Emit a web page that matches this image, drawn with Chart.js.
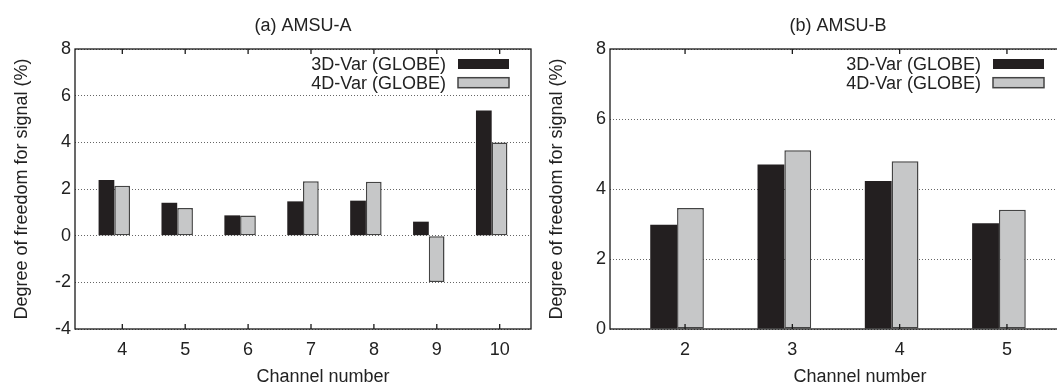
<!DOCTYPE html>
<html lang="ja">
<head>
<meta charset="utf-8">
<title>Degree of freedom for signal</title>
<script src="https://cdn.jsdelivr.net/npm/chart.js@4.4.1/dist/chart.umd.min.js"></script>
<style>
  html, body { margin: 0; padding: 0; background: #fff; }
  #wrap { position: relative; width: 1057px; height: 385px; overflow: hidden; font-family: "Liberation Sans", Arial, sans-serif; color: #222; }
  #chartA { position: absolute; left: 0; top: 0; }
  #chartB { position: absolute; left: 530px; top: 0; }
  .xlabel { position: absolute; top: 366px; font-size: 18px; line-height: 20px; white-space: nowrap; transform: translateX(-50%); }
</style>
</head>
<body>
<div id="wrap">
  <canvas id="chartA" width="532" height="385"></canvas>
  <canvas id="chartB" width="536" height="385"></canvas>
  <div class="xlabel" style="left:323px">Channel number</div>
  <div class="xlabel" style="left:860px">Channel number</div>
</div>
<script>
// データ
const seriesLabels = ['3D-Var (GLOBE)', '4D-Var (GLOBE)'];
const channelsA = [4, 5, 6, 7, 8, 9, 10];
const var3dA = [2.39, 1.41, 0.87, 1.47, 1.50, 0.60, 5.36];
const var4dA = [2.14, 1.19, 0.86, 2.33, 2.31, -1.99, 3.99];
const channelsB = [2, 3, 4, 5];
const var3dB = [2.98, 4.70, 4.23, 3.02];
const var4dB = [3.46, 5.11, 4.79, 3.41];
const yTicksA = [-4, -2, 0, 2, 4, 6, 8];
const yTicksB = [0, 2, 4, 6, 8];

const FONT = { family: '"Liberation Sans", Arial, sans-serif', size: 18, weight: 'normal' };
const TEXT = '#222';
const COLOR_3D = '#231f20';
const COLOR_4D = '#c6c7c8';
const EDGE_4D = '#444';

// 枠線と上下の目盛り
const framePlugin = {
  id: 'frame',
  afterDraw(chart) {
    const { ctx, chartArea: a } = chart;
    const xs = chart.scales.x;
    ctx.save();
    ctx.strokeStyle = '#1a1a1a';
    ctx.lineWidth = 1.3;
    ctx.strokeRect(a.left, a.top, a.right - a.left, a.bottom - a.top);
    ctx.beginPath();
    xs.ticks.forEach(t => {
      const px = xs.getPixelForValue(t.value) + 8;
      ctx.moveTo(px, a.top);
      ctx.lineTo(px, a.top + 5);
      ctx.moveTo(px, a.bottom);
      ctx.lineTo(px, a.bottom - 5);
    });
    ctx.stroke();
    ctx.restore();
  }
};

// 凡例 (右上、テキストの右に見本)
const keyPlugin = {
  id: 'key',
  afterDatasetsDraw(chart) {
    const { ctx, chartArea: a } = chart;
    const boxRight = a.right - 22;
    ctx.save();
    ctx.font = `${FONT.size}px ${FONT.family}`;
    ctx.textAlign = 'right';
    ctx.textBaseline = 'middle';
    chart.data.datasets.forEach((ds, i) => {
      const top = a.top + 10 + i * 18.7;
      ctx.fillStyle = ds.backgroundColor;
      ctx.fillRect(boxRight - 51, top, 51, 10);
      if (ds.borderWidth) {
        ctx.strokeStyle = ds.borderColor;
        ctx.lineWidth = ds.borderWidth;
        ctx.strokeRect(boxRight - 51, top, 51, 10);
      }
      ctx.fillStyle = TEXT;
      ctx.fillText(ds.label, boxRight - 63, top + 6);
    });
    ctx.restore();
  }
};

// グラフ作成
function makeChart(id, channels, v3d, v4d, yTicks, title, padLeft, padRight) {
  const toPoints = vals => channels.map((c, i) => ({ x: c, y: vals[i] }));
  return new Chart(document.getElementById(id), {
    type: 'bar',
    data: {
      datasets: [
        { label: seriesLabels[0], data: toPoints(v3d), backgroundColor: COLOR_3D, borderColor: COLOR_3D, borderWidth: 0 },
        { label: seriesLabels[1], data: toPoints(v4d), backgroundColor: COLOR_4D, borderColor: EDGE_4D, borderWidth: 1.5, borderSkipped: false },
      ]
    },
    options: {
      responsive: false,
      animation: false,
      layout: { padding: { left: padLeft, right: padRight, top: 0, bottom: 26.4 } },
      datasets: { bar: { barPercentage: 1, categoryPercentage: 0.5 } },
      plugins: {
        legend: { display: false },
        tooltip: { enabled: false },
        title: {
          display: true,
          text: title,
          fullSize: false,
          font: FONT,
          color: TEXT,
          padding: { top: 15, bottom: 12.4 },
        },
      },
      scales: {
        x: {
          type: 'linear',
          min: channels[0] - 0.625,
          max: channels[channels.length - 1] + 0.625,
          offset: false,
          afterBuildTicks: s => { s.ticks = channels.map(v => ({ value: v })); },
          afterFit: s => { s.height = 29.6; },
          grid: { display: false, offset: false },
          border: { display: false },
          ticks: { autoSkip: false, maxRotation: 0, padding: 2.5, labelOffset: 8, font: FONT, color: TEXT },
        },
        y: {
          min: yTicks[0],
          max: yTicks[yTicks.length - 1],
          afterBuildTicks: s => { s.ticks = yTicks.map(v => ({ value: v })); },
          afterFit: s => { s.width = 64; },
          grid: { color: '#666', lineWidth: 1, drawTicks: false },
          border: { display: false, dash: [1, 2] },
          ticks: { padding: 4, font: FONT, color: TEXT },
          title: { display: true, text: 'Degree of freedom for signal (%)', font: FONT, color: TEXT, padding: 0 },
        }
      }
    },
    plugins: [framePlugin, keyPlugin]
  });
}

makeChart('chartA', channelsA, var3dA, var4dA, yTicksA, '(a) AMSU-A', 11, 1);
makeChart('chartB', channelsB, var3dB, var4dB, yTicksB, '(b) AMSU-B', 16, 0);
</script>
</body>
</html>
